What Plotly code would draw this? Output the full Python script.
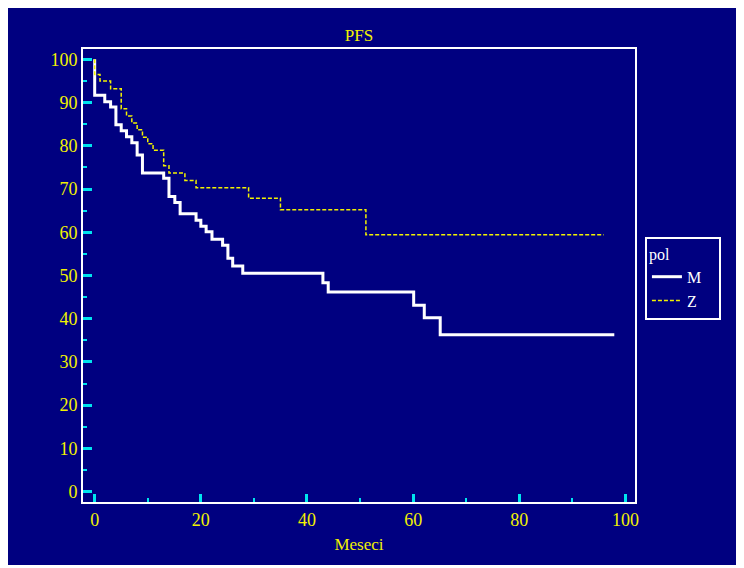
import plotly.graph_objects as go

# Kaplan-Meier step data (time in months, survival %)
m_time = [0, 0, 1.9, 3.0, 4.0, 5.0, 6.0, 7.0, 8.0, 9.0, 13.0, 14.0, 15.1, 16.1, 19.1, 20.0, 21.0, 22.1,
          24.1, 25.1, 26.0, 27.9, 43.0, 44.0, 60.1, 62.1, 65.1, 97.9]
m_surv = [100, 91.7, 90.2, 89.0, 84.9, 83.5, 82.1, 80.7, 77.9, 73.7, 72.5, 68.3, 66.9, 64.3, 62.8, 61.4,
          60.1, 58.4, 57.0, 54.0, 52.2, 50.5, 48.3, 46.2, 43.1, 40.2, 36.3, 36.3]

z_time = [0, 0, 1.0, 3.0, 5.0, 6.0, 7.0, 8.0, 9.0, 10.0, 11.0, 13.0, 14.0, 17.0, 19.1, 29.0, 35.0, 51.1, 95.9]
z_surv = [100, 96.5, 95.0, 93.2, 88.6, 86.9, 85.3, 83.7, 82.0, 80.5, 79.0, 75.4, 73.7, 72.0, 70.3, 67.9,
          65.2, 59.4, 59.4]

x_ticks = [0, 20, 40, 60, 80, 100]
y_ticks = [0, 10, 20, 30, 40, 50, 60, 70, 80, 90, 100]

NAVY = "#000080"
YELLOW = "#F2F200"
CYAN = "#00E5EE"
FONT = "Liberation Serif, Times New Roman, serif"
PAD = "\u00a0\u00a0\u00a0"

fig = go.Figure()
fig.add_trace(go.Scatter(x=m_time, y=m_surv, mode="lines", name="M" + PAD,
                         line=dict(color="white", width=3, shape="hv")))
fig.add_trace(go.Scatter(x=z_time, y=z_surv, mode="lines", name="Z" + PAD,
                         line=dict(color=YELLOW, width=1.5, shape="hv", dash="4px,2px")))

H = 557
fig.update_layout(
    width=736, height=H,
    margin=dict(l=75, r=109, t=41, b=63),
    paper_bgcolor=NAVY, plot_bgcolor=NAVY,
    font=dict(family=FONT, size=17, color=YELLOW),
    title=dict(text="PFS", x=0.5, xref="paper", xanchor="center", y=1 - 27 / H, yanchor="middle",
               font=dict(family=FONT, size=17, color=YELLOW)),
    legend=dict(title=dict(text="pol", font=dict(color="white", size=16)),
                font=dict(family=FONT, color="white", size=16),
                bgcolor=NAVY, bordercolor="white", borderwidth=2, itemwidth=30,
                x=1.018, xanchor="left", y=0.585, yanchor="top"),
    showlegend=True,
)

fig.update_xaxes(range=[-2.2, 101.8], tickvals=x_ticks, showgrid=False, zeroline=False,
                 showline=True, linecolor="white", linewidth=2, mirror=True,
                 ticks="inside", ticklen=8, tickwidth=3, tickcolor=CYAN,
                 minor=dict(dtick=10, tick0=0, ticks="inside", ticklen=4, tickwidth=2, tickcolor=CYAN),
                 tickfont=dict(family=FONT, size=18, color=YELLOW),
                 title=dict(text="Meseci", font=dict(family=FONT, size=17, color=YELLOW), standoff=10))
fig.update_yaxes(range=[-2.4, 102.4], tickvals=y_ticks, showgrid=False, zeroline=False,
                 showline=True, linecolor="white", linewidth=2, mirror=True,
                 ticks="inside", ticklen=9, tickwidth=3, tickcolor=CYAN,
                 minor=dict(dtick=5, tick0=0, ticks="inside", ticklen=4, tickwidth=2, tickcolor=CYAN),
                 tickfont=dict(family=FONT, size=18, color=YELLOW))

fig.write_html("out.html")
